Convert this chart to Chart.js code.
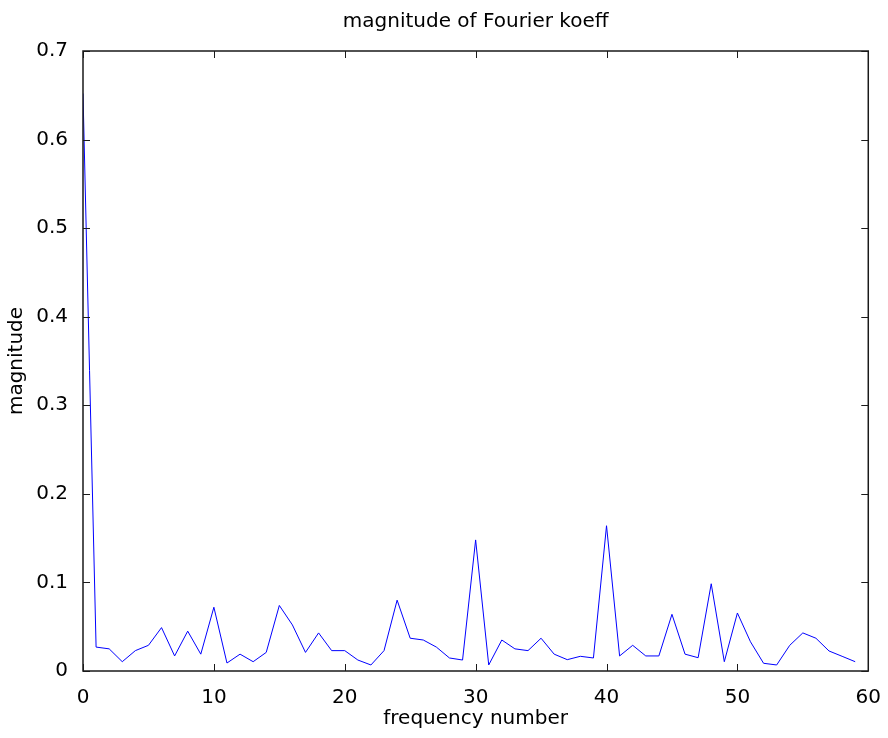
<!DOCTYPE html>
<html>
<head>
<meta charset="utf-8">
<title>magnitude of Fourier koeff</title>
<script src="https://cdn.jsdelivr.net/npm/chart.js@4.4.1/dist/chart.umd.min.js"></script>
<style>
    html, body { margin: 0; padding: 0; background: #fff; }
    canvas { display: block; }
</style>
</head>
<body>
<canvas id="fourierChart" width="888" height="738"></canvas>
<script>
// Magnitude of each Fourier coefficient, frequency numbers 0..59
const magnitudes = [
    0.652, 0.027, 0.025, 0.0105, 0.023, 0.029, 0.049, 0.017, 0.045, 0.019,
    0.072, 0.009, 0.019, 0.0105, 0.021, 0.074, 0.052, 0.021, 0.043, 0.023,
    0.023, 0.0124, 0.0068, 0.023, 0.080, 0.037, 0.035, 0.027, 0.0147, 0.0124,
    0.148, 0.0068, 0.035, 0.025, 0.023, 0.037, 0.019, 0.0128, 0.0166, 0.0147,
    0.164, 0.017, 0.029, 0.017, 0.017, 0.064, 0.019, 0.015, 0.0985, 0.0105,
    0.0655, 0.033, 0.0087, 0.0068, 0.029, 0.043, 0.037, 0.0226, 0.0166, 0.0105
];
const xTicks = [0, 10, 20, 30, 40, 50, 60];
const yTicks = [0, 0.1, 0.2, 0.3, 0.4, 0.5, 0.6, 0.7];

const FONT = 'DejaVu Sans';

// box around the plot with inward tick marks on all four sides
const boxFrame = {
    id: 'boxFrame',
    afterDraw(chart) {
        const { ctx, chartArea: a, scales } = chart;
        const len = 7;
        ctx.save();
        ctx.strokeStyle = '#1a1a1a';
        ctx.lineWidth = 1.5;
        ctx.strokeRect(a.left, a.top, a.right - a.left, a.bottom - a.top);
        ctx.lineWidth = 1;
        ctx.beginPath();
        xTicks.forEach(v => {
            const px = Math.round(scales.x.getPixelForValue(v)) + 0.5;
            ctx.moveTo(px, a.bottom); ctx.lineTo(px, a.bottom - len);
            ctx.moveTo(px, a.top); ctx.lineTo(px, a.top + len);
        });
        yTicks.forEach(v => {
            const py = Math.round(scales.y.getPixelForValue(v)) + 0.5;
            ctx.moveTo(a.left, py); ctx.lineTo(a.left + len, py);
            ctx.moveTo(a.right, py); ctx.lineTo(a.right - len, py);
        });
        ctx.stroke();
        ctx.restore();
    }
};

new Chart(document.getElementById('fourierChart'), {
    type: 'line',
    data: {
        datasets: [{
            label: 'magnitude',
            data: magnitudes.map((m, i) => ({ x: i, y: m })),
            borderColor: '#0000ff',
            borderWidth: 1,
            pointRadius: 0,
            tension: 0,
            fill: false
        }]
    },
    options: {
        responsive: false,
        animation: false,
        devicePixelRatio: 1,
        layout: { padding: { left: 0, right: 19, top: 0, bottom: 0 } },
        plugins: {
            legend: { display: false },
            tooltip: { enabled: false }
        },
        scales: {
            x: {
                type: 'linear',
                min: 0,
                max: 60,
                afterFit: s => { s.height = 67; },
                afterBuildTicks: s => { s.ticks = xTicks.map(v => ({ value: v })); },
                grid: { display: false },
                border: { display: false },
                ticks: {
                    color: '#000',
                    padding: 7,
                    maxRotation: 0,
                    font: { family: FONT, size: 20 }
                },
                title: {
                    display: true,
                    text: 'frequency number',
                    color: '#000',
                    font: { family: FONT, size: 20 },
                    padding: { top: 0, bottom: 7 }
                }
            },
            // top axis only carries the plot title, centred over the plot box
            top: {
                type: 'linear',
                position: 'top',
                min: 0,
                max: 60,
                afterFit: s => { s.height = 51; },
                grid: { display: false },
                border: { display: false },
                ticks: { display: false },
                title: {
                    display: true,
                    text: 'magnitude of Fourier koeff',
                    color: '#000',
                    font: { family: FONT, size: 20 },
                    padding: { top: 10, bottom: 0 }
                }
            },
            y: {
                min: 0,
                max: 0.7,
                afterFit: s => { s.width = 83; },
                afterBuildTicks: s => { s.ticks = yTicks.map(v => ({ value: v })); },
                grid: { display: false },
                border: { display: false },
                ticks: {
                    color: '#000',
                    padding: 7,
                    font: { family: FONT, size: 20 },
                    callback: v => (v === 0 ? '0' : v.toFixed(1))
                },
                title: {
                    display: true,
                    text: 'magnitude',
                    color: '#000',
                    font: { family: FONT, size: 20 },
                    padding: { top: 5, bottom: 0 }
                }
            }
        }
    },
    plugins: [boxFrame]
});
</script>
</body>
</html>
